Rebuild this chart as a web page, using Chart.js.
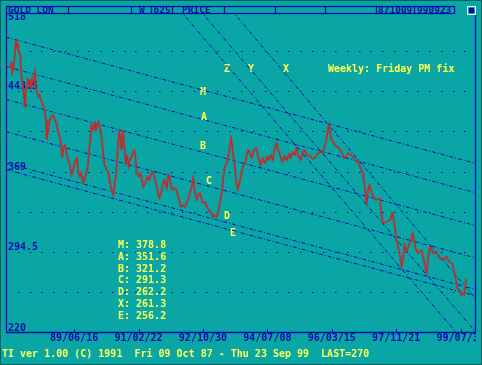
<!DOCTYPE html>
<html><head><meta charset="utf-8">
<script src="https://cdn.jsdelivr.net/npm/chart.js@4.4.0/dist/chart.umd.min.js"></script>
<style>html,body{margin:0;padding:0;background:#0aa6a6;overflow:hidden}canvas{display:block}</style>
</head><body><canvas id="c" width="482" height="365"></canvas>
<script>
// ---- data (weekly London PM gold fix) ----
const weeks = [
0,3,4,6,9,10,12,13,15,16,
18,20,21,22,24,25,27,29,30,32,
35,36,38,40,41,44,46,48,50,51,
53,55,57,60,62,64,66,69,71,72,
74,76,78,80,82,85,87,89,92,94,
96,98,101,103,105,107,109,111,112,114,
117,118,120,122,123,126,128,130,133,135,
137,139,142,144,146,148,150,152,153,155,
157,159,161,163,164,167,169,171,173,174,
177,179,182,183,186,188,191,194,196,198,
201,203,205,208,210,212,215,217,219,221,
223,226,228,230,233,235,237,240,242,244,
246,249,251,253,256,258,260,262,264,267,
269,271,274,276,278,280,283,285,287,290,
292,294,297,299,301,303,306,308,310,312,
315,317,319,322,324,326,328,331,334,337,
341,343,346,349,352,354,357,360,362,365,
368,371,373,376,379,382,384,387,390,392,
395,398,401,403,407,410,414,417,421,424,
428,433,436,440,442,447,451,454,458,463,
467,472,476,479,483,485,488,490,492,495,
497,501,506,508,510,515,520,523,526,529,
531,533,536,538,540,542,547,551,555,558,
563,566,570,572,575,579,583,588,592,597,
601,605,607,610,612,615,617,619,621,624];
const prices = [
464.5,469.4,460.2,466.0,490.7,483.3,486.1,478.7,476.8,460.2,
450.9,438.2,429.0,441.7,449.1,453.7,449.1,453.7,446.3,452.1,
461.4,447.5,441.7,438.2,439.8,433.6,430.6,425.9,416.7,398.2,
407.4,416.7,419.7,421.3,416.7,413.9,407.4,401.2,391.9,381.5,
391.9,393.5,386.1,379.6,376.8,365.8,370.4,376.8,381.5,370.4,
364.2,367.6,358.4,363.0,367.6,373.4,388.9,401.2,412.0,407.4,
413.9,407.4,412.0,415.1,410.5,401.2,386.1,375.0,370.4,368.8,
361.1,353.7,347.3,358.4,367.6,388.9,407.4,395.4,388.9,407.4,
391.9,376.8,382.7,373.4,379.6,382.7,387.3,388.9,376.8,367.6,
364.2,367.6,358.4,354.9,358.4,364.2,361.1,367.6,368.8,364.2,
356.5,349.1,344.5,350.3,358.4,361.1,353.7,365.8,363.0,354.9,
351.9,353.7,351.9,347.3,339.8,336.4,338.0,336.4,339.8,342.6,
347.3,354.9,363.0,351.9,342.6,347.3,349.1,345.7,339.8,341.0,
338.0,334.9,331.8,330.3,327.1,328.7,327.1,330.3,338.0,349.1,
361.1,373.4,376.8,382.7,391.9,400.0,382.7,373.4,358.4,351.9,
361.1,367.6,373.4,376.8,382.7,388.9,387.0,381.5,388.9,390.8,
379.6,375.0,381.5,376.8,382.4,379.6,384.3,379.6,388.9,395.4,
387.0,381.5,377.8,383.4,379.6,385.2,381.5,387.0,384.3,390.8,
382.4,379.6,387.0,388.9,383.4,384.3,380.6,381.5,385.2,387.3,
386.1,398.2,412.0,398.2,396.6,391.9,390.5,386.1,381.2,386.1,
384.3,379.6,378.1,373.4,367.6,356.5,339.8,351.9,356.5,349.1,
345.7,342.6,344.2,330.3,321.0,322.5,324.1,330.3,321.0,305.6,
299.4,293.3,280.9,290.1,301.0,294.8,302.6,311.8,297.9,293.3,
296.4,287.1,274.8,290.1,299.4,293.3,294.8,288.6,287.1,290.1,
285.5,284.0,277.8,268.6,260.9,259.3,254.7,256.2,254.7,270.0];

const xTickWeeks  = [88,176,264,352,440,528,616];
const xTickLabels = ['89/06/16','91/02/22','92/10/30','94/07/08','96/03/15','97/11/21','99/07/30'];
const yTickLabels = ['220','294.5','369','443.5','518'];

// channel trend lines: value at left edge (week -5) and right edge (week 637)
const channelNames       = ['M','A','B','C','D','E'];
const channelLeftValues  = [493.3,466.1,435.7,405.8,376.7,370.7];
const channelRightValues = [376.4,349.2,318.8,288.9,259.8,253.8];
// steep trend lines
const steepNames       = ['Z','Y','X'];
const steepStartWeeks  = [232.7,260.0,303.5];
const steepStartValues = [518,518,518];
const steepEndWeeks    = [610.0,637.3,637.0];
const steepEndValues   = [220,220,250.9];

const legendNames  = ['M','A','B','C','D','X','E'];
const legendValues = ['378.8','351.6','321.2','291.3','262.2','261.3','256.2'];

// ---- styling ----
const BG='#0aa6a6', BLUE='#0c0ca8', YEL='#ffff55', RED='#d42020', GRAY='#666666';
const FONT='bold 10px "DejaVu Sans Mono", "Liberation Mono", monospace';
const X_MIN=-5, X_MAX=637;

const pricePts = weeks.map((w,i)=>({x:w,y:prices[i]}));
const datasets = [
  {label:'price', data:pricePts, borderColor:RED, borderWidth:1.2, order:0},
  {label:'shadow', data:pricePts, borderColor:GRAY, borderWidth:1.2, order:1}
];
channelNames.forEach((n,i)=>datasets.push({label:n, order:2, borderColor:BLUE, borderWidth:1, borderDash:[4,2,1,2],
  data:[{x:X_MIN,y:channelLeftValues[i]},{x:X_MAX,y:channelRightValues[i]}]}));
steepNames.forEach((n,i)=>datasets.push({label:n, order:2, borderColor:BLUE, borderWidth:1, borderDash:[4,2,1,2],
  data:[{x:steepStartWeeks[i],y:steepStartValues[i]},{x:steepEndWeeks[i],y:steepEndValues[i]}]}));

function txt(ctx,s,x,y,color,align){ctx.fillStyle=color;ctx.textAlign=align||'left';ctx.fillText(s,x,y);}

const deco = {
  id:'deco',
  beforeDraw(chart){
    const ctx=chart.ctx; ctx.save(); ctx.fillStyle=BG; ctx.fillRect(0,0,chart.width,chart.height); ctx.restore();
  },
  beforeDatasetsDraw(chart){
    const {ctx, scales:{x,y}} = chart;
    ctx.save();
    // dotted grid rows
    ctx.fillStyle=BLUE;
    const rowVals = y.ticks.map(t=>t.value).filter(v=>v>y.min+0.01 && v<y.max-0.01);
    for(const v of rowVals){
      const py=Math.round(y.getPixelForValue(v));
      for(let k=1;k<40;k++){
        const px=Math.round(x.getPixelForValue(x.min+(x.max-x.min)*k/40));
        ctx.fillRect(px,py,1.5,1);
      }
    }
    // axes frame
    ctx.strokeStyle=BLUE; ctx.lineWidth=1.3;
    ctx.beginPath(); ctx.moveTo(6.5,8); ctx.lineTo(6.5,332.5); ctx.lineTo(475.5,332.5); ctx.lineTo(475.5,8); ctx.stroke();
    // x ticks + labels
    ctx.font=FONT; ctx.textBaseline='middle';
    ctx.save(); ctx.beginPath(); ctx.rect(0,0,476,365); ctx.clip();
    xTickWeeks.forEach((w,i)=>{
      const px=x.getPixelForValue(w);
      ctx.fillStyle=BLUE; ctx.fillRect(Math.round(px),329,1,3);
      txt(ctx,xTickLabels[i],px,338,BLUE,'center');
    });
    ctx.restore();
    // y labels
    yTickLabels.forEach(l=>{
      const py=Math.max(y.getPixelForValue(parseFloat(l))-4.5,17.5);
      txt(ctx,l,8,py,BLUE,'left');
    });
    // annotations
    txt(ctx,'Weekly: Friday PM fix',328,69.5,YEL);
    const steepLab=[[227,69.5],[251,69.5],[286,69.5]];
    steepNames.forEach((n,i)=>txt(ctx,n,steepLab[i][0],steepLab[i][1],YEL,'center'));
    const chLab=[[203,92],[204,117],[203,146.5],[209,181.5],[227,216.5],[233,233.5]];
    channelNames.forEach((n,i)=>txt(ctx,n,chLab[i][0],chLab[i][1],YEL,'center'));
    legendNames.forEach((n,i)=>txt(ctx,n+': '+legendValues[i],118,245.5+i*11.8,YEL));
    txt(ctx,'TI ver 1.00 (C) 1991  Fri 09 Oct 87 - Thu 23 Sep 99  LAST=270',2,354.5,YEL);
    ctx.restore();
  },
  beforeDatasetDraw(chart,args){
    if(chart.data.datasets[args.index].label==='shadow'){chart.ctx.save();chart.ctx.translate(-1,0);}
  },
  afterDatasetDraw(chart,args){
    if(chart.data.datasets[args.index].label==='shadow'){chart.ctx.restore();}
  },
  afterDraw(chart){
    const ctx=chart.ctx; ctx.save();
    ctx.fillStyle=BG; ctx.fillRect(0,0,482,14.5);
    ctx.strokeStyle=BLUE; ctx.lineWidth=1.3;
    ctx.beginPath(); ctx.moveTo(6.5,14); ctx.lineTo(6.5,16); ctx.moveTo(475.5,14); ctx.lineTo(475.5,16); ctx.stroke();
    ctx.strokeRect(6.5,6.5,448,7);
    [68.5,131.5,151.5,172.5,224.5,275.5,325.5,376.5,414.5].forEach(d=>{ctx.beginPath();ctx.moveTo(d,6.5);ctx.lineTo(d,13.5);ctx.stroke();});
    ctx.font='bold 9.5px "DejaVu Sans Mono", monospace'; ctx.textBaseline='middle';
    txt(ctx,'GOLD LON',8,10.5,BLUE);
    txt(ctx,'W',139,10.5,BLUE);
    txt(ctx,'625',153.5,10.5,BLUE);
    txt(ctx,'PRICE',182,10.5,BLUE);
    txt(ctx,'871009',378,10.5,BLUE);
    txt(ctx,'990923',417,10.5,BLUE);
    ctx.strokeStyle='#ffffff'; ctx.lineWidth=1; ctx.strokeRect(467.5,6.5,8,8);
    ctx.fillStyle=BLUE; ctx.fillRect(469,8,5,5);
    ctx.strokeStyle='#046060'; ctx.strokeRect(0.5,0.5,481,364);
    ctx.restore();
  }
};

new Chart(document.getElementById('c'), {
  type:'line',
  data:{datasets},
  options:{
    responsive:false, animation:false, devicePixelRatio:1,
    layout:{padding:{left:6,right:6,top:10.5,bottom:32.5}},
    elements:{point:{radius:0}, line:{tension:0, fill:false}},
    scales:{
      x:{type:'linear', min:X_MIN, max:X_MAX, display:false},
      y:{type:'linear', min:220, max:518, display:false, ticks:{stepSize:37.25}}
    },
    plugins:{legend:{display:false}, tooltip:{enabled:false}}
  },
  plugins:[deco]
});
</script>
</body></html>
